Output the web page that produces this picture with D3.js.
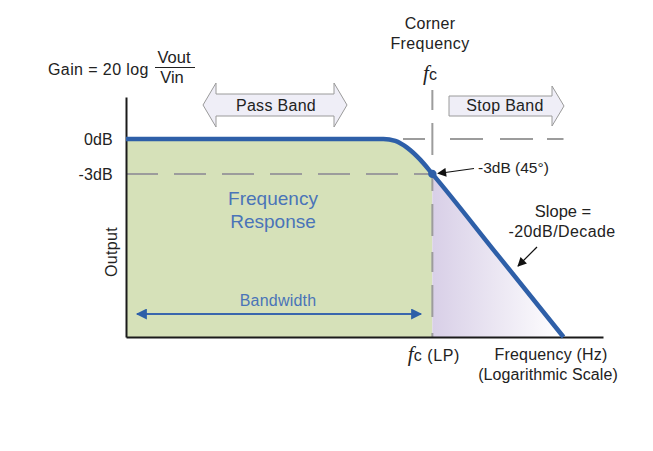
<!DOCTYPE html>
<html><head><meta charset="utf-8">
<script src="https://cdn.jsdelivr.net/npm/d3@7"></script>
<style>
html,body{margin:0;padding:0;background:#fff;}
text{font-family:"Liberation Sans",Arial,sans-serif;}
</style></head>
<body>
<svg id="chart" width="653" height="451"></svg>
<script>
// ---- data ----
const freqHz = [10, 300, 479, 573, 687, 836, 1000, 2680, 7180];
const gainDb = [0, 0, 0, -0.17, -0.77, -1.8, -3, -10, -17];
const cornerFreq = 1000;
const yTickValues = [0, -3];
const yTickLabels = ["0dB", "-3dB"];
const freqDomain = [10, 13000];
const gainDomain = [-17, 3.6];

const svg = d3.select("#chart");
const x = d3.scaleLog().domain(freqDomain).range([126, 603]);
const y = d3.scaleLinear().domain(gainDomain).range([337, 97]);
const pts = freqHz.map((f, i) => ({f, g: gainDb[i]}));

const defs = svg.append("defs");
const grad = defs.append("linearGradient").attr("id", "lav")
  .attr("gradientUnits", "userSpaceOnUse")
  .attr("x1", x(cornerFreq)).attr("x2", x(7180)).attr("y1", 0).attr("y2", 0);
grad.append("stop").attr("offset", "0%").attr("stop-color", "#d8cfe7");
grad.append("stop").attr("offset", "100%").attr("stop-color", "#ffffff");
defs.append("clipPath").attr("id", "clipL").append("rect")
  .attr("x", x(freqDomain[0])).attr("y", 0).attr("width", x(cornerFreq) - x(freqDomain[0])).attr("height", 451);
defs.append("clipPath").attr("id", "clipR").append("rect")
  .attr("x", x(cornerFreq)).attr("y", 0).attr("width", 300).attr("height", 451);
function marker(id, color, w, h) {
  defs.append("marker").attr("id", id).attr("viewBox", "0 0 10 10")
    .attr("refX", 9).attr("refY", 5).attr("markerWidth", w).attr("markerHeight", h)
    .attr("markerUnits", "userSpaceOnUse").attr("orient", "auto-start-reverse")
    .append("path").attr("d", "M0,0L10,5L0,10Z").attr("fill", color);
}
marker("blk", "#111", 12, 9);
marker("blu", "#2e5fa8", 17, 11);

const curve = d3.curveMonotoneX;
const area = d3.area().x(d => x(d.f)).y0(y(gainDomain[0])).y1(d => y(d.g)).curve(curve);
const line = d3.line().x(d => x(d.f)).y(d => y(d.g)).curve(curve);

svg.append("path").datum(pts).attr("d", area).attr("fill", "#d6e1b9").attr("clip-path", "url(#clipL)");
svg.append("path").datum(pts).attr("d", area).attr("fill", "url(#lav)").attr("clip-path", "url(#clipR)");

// dashed guides
const dash = "32,16";
const gGuide = svg.append("g").attr("stroke", "#9c9c9c").attr("stroke-width", 2).attr("fill", "none");
gGuide.append("line").attr("x1", x(freqDomain[0])).attr("x2", x(cornerFreq))
  .attr("y1", y(-3)).attr("y2", y(-3)).attr("stroke-dasharray", dash);
gGuide.append("line").attr("x1", 403).attr("x2", x(7180))
  .attr("y1", y(0)).attr("y2", y(0)).attr("stroke-dasharray", "22,25,33,17,33,14,33");
gGuide.append("line").attr("x1", x(cornerFreq)).attr("x2", x(cornerFreq))
  .attr("y1", 90).attr("y2", y(gainDomain[0])).attr("stroke-dasharray", "20,13,32,16");

// axes
const yAxis = d3.axisLeft(y).tickValues(yTickValues).tickFormat((d, i) => yTickLabels[i])
  .tickSize(0).tickSizeOuter(0).tickPadding(13);
const gy = svg.append("g").attr("transform", `translate(${x(freqDomain[0])},0)`).call(yAxis);
gy.select(".domain").attr("stroke", "#1a1a1a").attr("stroke-width", 2);
gy.selectAll("text").attr("font-size", 16).attr("fill", "#222").style("letter-spacing", "0.2px");

const xAxis = d3.axisBottom(x).tickValues([cornerFreq]).tickFormat("").tickSize(0).tickSizeOuter(0);
const gx = svg.append("g").attr("transform", `translate(0,${y(gainDomain[0])})`).call(xAxis);
gx.select(".domain").attr("stroke", "#1a1a1a").attr("stroke-width", 2);
const fcLab = gx.select(".tick text").attr("x", 1).attr("y", 24).attr("dy", 0).attr("fill", "#222").attr("text-anchor", "middle");
fcLab.append("tspan").attr("font-family", "'Liberation Serif',serif").attr("font-style", "italic").attr("font-size", 21).text("f");
fcLab.append("tspan").attr("font-size", 16).style("letter-spacing", "0.6px").text("c (LP)");

// curve
svg.append("path").datum(pts).attr("d", line).attr("fill", "none")
  .attr("stroke", "#2e5fa8").attr("stroke-width", 4.5).attr("stroke-linecap", "butt");
svg.append("circle").attr("cx", x(cornerFreq)).attr("cy", y(-3)).attr("r", 4.2).attr("fill", "#2e5fa8");

// band arrows
svg.append("path").attr("d", "M203,105L216,83L216,94L334,94L334,83L347,105L334,127L334,116L216,116L216,127Z")
  .attr("fill", "#efeef7").attr("stroke", "#9a9a9a").attr("stroke-width", 1);
svg.append("path").attr("d", "M449,96L552,96L552,86L564,106L552,126L552,116L449,116Z")
  .attr("fill", "#efeef7").attr("stroke", "#9a9a9a").attr("stroke-width", 1);

function txt(t, xx, yy, size, anchor, color) {
  return svg.append("text").attr("x", xx).attr("y", yy).attr("font-size", size)
    .attr("text-anchor", anchor || "middle").attr("fill", color || "#222").text(t);
}
txt("Pass Band", 276, 111, 16).style("letter-spacing", "0.3px");
txt("Stop Band", 505, 111, 16).style("letter-spacing", "0.3px");

// gain formula
txt("Gain = 20 log", 48, 75, 16, "start").style("letter-spacing", "0.4px");
txt("Vout", 174, 63, 16.5);
svg.append("line").attr("x1", 155).attr("x2", 195).attr("y1", 67.5).attr("y2", 67.5).attr("stroke", "#222").attr("stroke-width", 1.2);
txt("Vin", 172, 83, 16.5);

// corner freq
txt("Corner", 430, 29, 16).style("letter-spacing", "0.3px");
txt("Frequency", 430, 49, 16).style("letter-spacing", "0.4px");
const fcTop = svg.append("text").attr("x", 430).attr("y", 80).attr("text-anchor", "middle").attr("fill", "#222");
fcTop.append("tspan").attr("font-family", "'Liberation Serif',serif").attr("font-style", "italic").attr("font-size", 21).text("f");
fcTop.append("tspan").attr("font-size", 16).text("c");

// output label
svg.append("text").attr("transform", "translate(117,252) rotate(-90)").attr("text-anchor", "middle")
  .attr("font-size", 16).attr("fill", "#222").style("letter-spacing", "0.3px").text("Output");

// frequency response
txt("Frequency", 273, 205, 19, "middle", "#4a74b8");
txt("Response", 273, 228, 19, "middle", "#4a74b8");

// bandwidth
txt("Bandwidth", 278, 306, 16, "middle", "#4a74b8").style("letter-spacing", "0.2px");
svg.append("line").attr("x1", 137).attr("x2", 421).attr("y1", 314).attr("y2", 314)
  .attr("stroke", "#3a66ad").attr("stroke-width", 2)
  .attr("marker-start", "url(#blu)").attr("marker-end", "url(#blu)");

// -3dB annotation
svg.append("line").attr("x1", 474).attr("y1", 168.5).attr("x2", 438).attr("y2", 173.5)
  .attr("stroke", "#111").attr("stroke-width", 1.2).attr("marker-end", "url(#blk)");
txt("-3dB (45°)", 478, 173, 15.5, "start");

// slope annotation
txt("Slope =", 563, 217, 16.5);
txt("-20dB/Decade", 562, 237, 16).style("letter-spacing", "0.4px");
svg.append("line").attr("x1", 537).attr("y1", 247).attr("x2", 518).attr("y2", 266)
  .attr("stroke", "#111").attr("stroke-width", 1.2).attr("marker-end", "url(#blk)");

// axis title
txt("Frequency (Hz)", 551, 360, 16).style("letter-spacing", "0.2px");
txt("(Logarithmic Scale)", 548, 380, 16).style("letter-spacing", "0.1px");
</script>
</body></html>
